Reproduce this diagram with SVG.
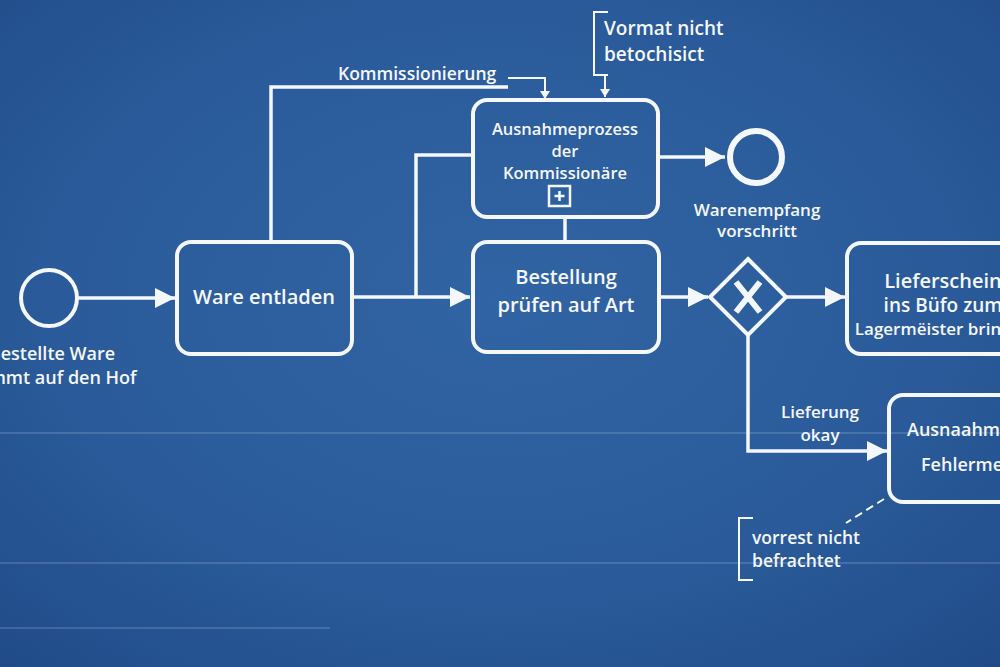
<svg xmlns="http://www.w3.org/2000/svg" width="1000" height="667" viewBox="0 0 1000 667">
<defs>
<radialGradient id="bg" cx="0.5" cy="0.45" r="0.75">
<stop offset="0" stop-color="#3164a4"/>
<stop offset="0.6" stop-color="#2a5a99"/>
<stop offset="1" stop-color="#204b88"/>
</radialGradient>
<marker id="arr" markerUnits="userSpaceOnUse" markerWidth="22" markerHeight="20" refX="20" refY="10" orient="auto">
<path d="M0,0 L20,10 L0,20 Z" fill="#f4f7fb"/>
</marker>
<marker id="sarr" markerUnits="userSpaceOnUse" markerWidth="10" markerHeight="10" refX="8" refY="5" orient="auto">
<path d="M0,0 L8,5 L0,10 Z" fill="#f4f7fb"/>
</marker>
<style>
.box{fill:none;stroke:#f4f7fb;stroke-width:4}
.ln{fill:none;stroke:#f4f7fb;stroke-width:3.5}
.thin{fill:none;stroke:#f4f7fb;stroke-width:2}
.t{font-family:"Open Sans","Noto Sans",sans-serif;fill:#f4f7fb;text-anchor:middle;font-weight:600}
.ts{font-family:"Open Sans","Noto Sans",sans-serif;fill:#f4f7fb;font-weight:600}
.grid{stroke:#cfe0f5;stroke-opacity:0.18;stroke-width:2}
</style>
</defs>
<rect width="1000" height="667" fill="url(#bg)"/>
<g id="texture">
<line class="grid" x1="0" y1="563" x2="1000" y2="563"/>
<line class="grid" x1="0" y1="628" x2="330" y2="628"/>
<line class="grid" x1="0" y1="433" x2="1000" y2="433" stroke-opacity="0.08"/>
</g>
<g id="connectors">
<line class="ln" x1="78" y1="298" x2="175" y2="298" marker-end="url(#arr)"/>
<line class="ln" x1="352" y1="297" x2="470" y2="297" marker-end="url(#arr)"/>
<path class="ln" d="M416,297 V155 H473"/>
<path class="ln" d="M271,242 V87 H508"/>
<path class="thin" d="M508,78 H545 V99" marker-end="url(#sarr)"/>
<line class="ln" x1="565" y1="217" x2="565" y2="242"/>
<line class="ln" x1="658" y1="157" x2="725" y2="157" marker-end="url(#arr)"/>
<line class="ln" x1="659" y1="297" x2="708" y2="297" marker-end="url(#arr)"/>
<line class="ln" x1="786" y1="297" x2="845" y2="297" marker-end="url(#arr)"/>
<path class="ln" d="M748,335 V451 H887" marker-end="url(#arr)"/>
<line class="thin" x1="884" y1="499" x2="846" y2="523" stroke-dasharray="8,5"/>
<path class="thin" d="M605,75 V97" marker-end="url(#sarr)"/>
</g>
<g id="start">
<circle cx="49" cy="298" r="28" class="box"/>
<text class="t" x="52" y="360" font-size="18">Bestellte Ware</text>
<text class="t" x="52" y="384" font-size="18">kommt auf den Hof</text>
</g>
<g id="ware">
<rect x="177" y="242" width="175" height="112" rx="14" class="box"/>
<text class="t" x="264" y="304" font-size="20">Ware entladen</text>
</g>
<g id="kommissionierung">
<text class="ts" x="338" y="80" font-size="17.5">Kommissionierung</text>
</g>
<g id="ausnahmeprozess">
<rect x="473" y="100" width="185" height="117" rx="14" class="box"/>
<text class="t" x="565" y="135" font-size="16.5">Ausnahmeprozess</text>
<text class="t" x="565" y="157" font-size="16.5">der</text>
<text class="t" x="565" y="179" font-size="16.5">Kommissionäre</text>
<rect x="549" y="186" width="21" height="20" fill="none" stroke="#f4f7fb" stroke-width="2.5"/>
<path d="M559.5,191 V201 M554.5,196 H564.5" stroke="#f4f7fb" stroke-width="2.5"/>
</g>
<g id="vormat">
<path class="thin" d="M608,12 H594 V75 H608" stroke-width="3"/>
<text class="ts" x="604" y="35" font-size="19">Vormat nicht</text>
<text class="ts" x="604" y="61" font-size="19">betochisict</text>
</g>
<g id="end">
<circle cx="756" cy="157" r="26" fill="none" stroke="#f4f7fb" stroke-width="6"/>
<text class="t" x="757" y="216" font-size="17">Warenempfang</text>
<text class="t" x="757" y="237" font-size="17">vorschritt</text>
</g>
<g id="bestellung">
<rect x="473" y="242" width="186" height="110" rx="14" class="box"/>
<text class="t" x="566" y="284" font-size="20">Bestellung</text>
<text class="t" x="566" y="312" font-size="20">prüfen auf Art</text>
</g>
<g id="gateway">
<path d="M748,259 L786,297 L748,335 L710,297 Z" class="box"/>
<path d="M736,282 L760,312 M760,282 L736,312" stroke="#f4f7fb" stroke-width="6"/>
</g>
<g id="lieferschein">
<rect x="847" y="243" width="175" height="111" rx="14" class="box"/>
<text class="t" x="943" y="288" font-size="20">Lieferschein</text>
<text class="t" x="943" y="312" font-size="19">ins Büfo zum</text>
<text class="t" x="943" y="335" font-size="17">Lagermëister bringen</text>
</g>
<g id="lieferung">
<text class="t" x="820" y="418" font-size="17">Lieferung</text>
<text class="t" x="820" y="441" font-size="17">okay</text>
</g>
<g id="ausnaahm">
<rect x="889" y="395" width="130" height="107" rx="14" class="box"/>
<text class="ts" x="907" y="436" font-size="18">Ausnaahme</text>
<text class="ts" x="921" y="471" font-size="18">Fehlermeldung</text>
</g>
<g id="vorrest">
<path class="thin" d="M753,518 H739 V580 H753" stroke-width="3"/>
<text class="ts" x="752" y="544" font-size="17.5">vorrest nicht</text>
<text class="ts" x="752" y="567" font-size="17.5">befrachtet</text>
</g>
</svg>
